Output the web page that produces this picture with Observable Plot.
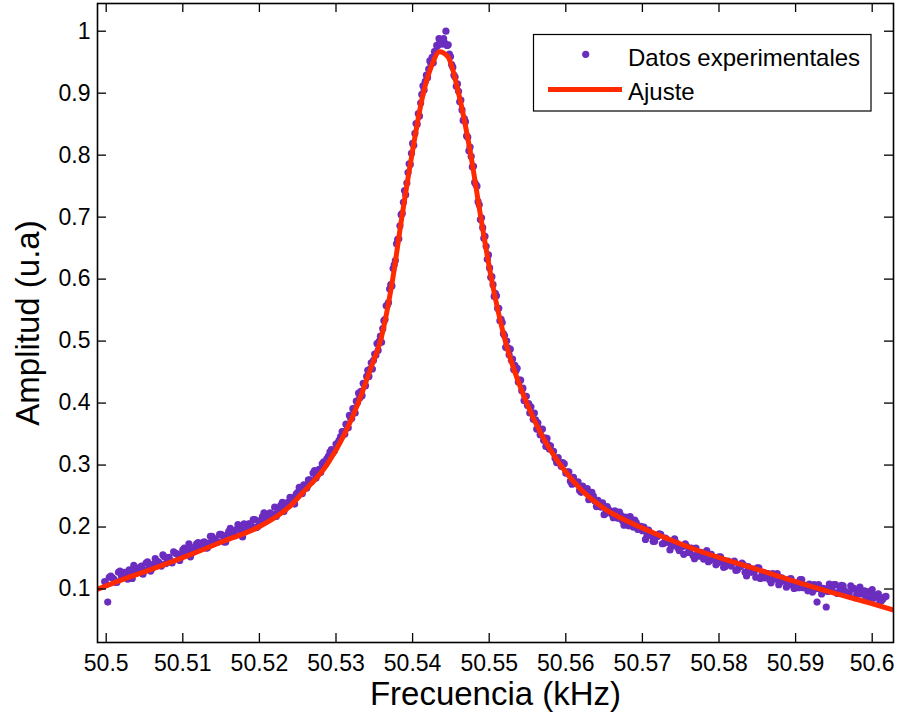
<!DOCTYPE html>
<html>
<head>
<meta charset="utf-8">
<script src="https://cdn.jsdelivr.net/npm/d3@7"></script>
<script src="https://cdn.jsdelivr.net/npm/@observablehq/plot@0.6"></script>
<style>
  html, body { margin: 0; padding: 0; background: #fff; }
  #chart { width: 900px; height: 720px; }
</style>
</head>
<body>
<div id="chart"></div>
<script>
// ---------- data ----------
const dataFreqLeft = [
50.4998, 50.5002, 50.5006, 50.5010, 50.5014, 50.5018, 50.5022, 50.5026, 50.5030, 50.5034,
50.5038, 50.5042, 50.5046, 50.5050, 50.5054, 50.5058, 50.5062, 50.5066, 50.5070, 50.5074,
50.5078, 50.5082, 50.5086, 50.5090, 50.5094, 50.5098, 50.5102, 50.5106, 50.5110, 50.5114,
50.5118, 50.5122, 50.5126, 50.5130, 50.5134, 50.5138, 50.5142, 50.5146, 50.5150, 50.5154,
50.5158, 50.5162, 50.5166, 50.5170, 50.5174, 50.5178, 50.5182, 50.5186, 50.5190, 50.5194,
50.5198, 50.5202, 50.5206, 50.5210, 50.5214, 50.5218, 50.5222, 50.5226, 50.5230, 50.5234,
50.5238, 50.5242, 50.5246, 50.5250, 50.5254, 50.5258, 50.5262, 50.5266, 50.5270, 50.5274,
50.5278, 50.5282, 50.5286, 50.5290, 50.5294, 50.5298, 50.5302, 50.5306];
const dataAmpLeft = [
0.112, 0.079, 0.121, 0.116, 0.111, 0.129, 0.122, 0.120, 0.131, 0.117,
0.131, 0.129, 0.137, 0.130, 0.144, 0.129, 0.140, 0.145, 0.141, 0.155,
0.141, 0.151, 0.142, 0.158, 0.155, 0.153, 0.166, 0.164, 0.152, 0.166,
0.173, 0.166, 0.175, 0.166, 0.174, 0.185, 0.181, 0.176, 0.188, 0.176,
0.187, 0.198, 0.187, 0.196, 0.201, 0.184, 0.200, 0.205, 0.201, 0.212,
0.201, 0.211, 0.223, 0.212, 0.223, 0.220, 0.217, 0.231, 0.240, 0.231,
0.240, 0.247, 0.237, 0.256, 0.257, 0.268, 0.263, 0.276, 0.287, 0.279,
0.293, 0.302, 0.301, 0.314, 0.325, 0.323, 0.335, 0.346];

const dataFreqLeftB = [
50.5000, 50.5004, 50.5008, 50.5012, 50.5016, 50.5020, 50.5024, 50.5028, 50.5032, 50.5036,
50.5040, 50.5044, 50.5048, 50.5052, 50.5056, 50.5060, 50.5064, 50.5068, 50.5072, 50.5076,
50.5080, 50.5084, 50.5088, 50.5092, 50.5096, 50.5100, 50.5104, 50.5108, 50.5112, 50.5116,
50.5120, 50.5124, 50.5128, 50.5132, 50.5136, 50.5140, 50.5144, 50.5148, 50.5152, 50.5156,
50.5160, 50.5164, 50.5168, 50.5172, 50.5176, 50.5180, 50.5184, 50.5188, 50.5192, 50.5196,
50.5200, 50.5204, 50.5208, 50.5212, 50.5216, 50.5220, 50.5224, 50.5228, 50.5232, 50.5236,
50.5240, 50.5244, 50.5248, 50.5252, 50.5256, 50.5260, 50.5264, 50.5268, 50.5272, 50.5276,
50.5280, 50.5284, 50.5288, 50.5292, 50.5296, 50.5300, 50.5304, 50.5308];
const dataAmpLeftB = [
0.108, 0.119, 0.118, 0.111, 0.127, 0.120, 0.127, 0.116, 0.128, 0.138,
0.127, 0.135, 0.124, 0.142, 0.138, 0.133, 0.149, 0.144, 0.137, 0.152,
0.148, 0.146, 0.160, 0.157, 0.146, 0.163, 0.161, 0.173, 0.158, 0.168,
0.175, 0.167, 0.176, 0.166, 0.185, 0.178, 0.175, 0.188, 0.186, 0.176,
0.193, 0.191, 0.186, 0.204, 0.195, 0.205, 0.196, 0.205, 0.212, 0.199,
0.209, 0.217, 0.209, 0.221, 0.220, 0.232, 0.224, 0.235, 0.225, 0.239,
0.248, 0.243, 0.253, 0.264, 0.254, 0.266, 0.276, 0.273, 0.291, 0.289,
0.288, 0.305, 0.310, 0.321, 0.320, 0.334, 0.340, 0.354];

const dataFreqPeak = [
50.5310, 50.53115, 50.5313, 50.53145, 50.5316, 50.53175, 50.5319, 50.53205, 50.5322, 50.53235,
50.5325, 50.53265, 50.5328, 50.53295, 50.5331, 50.53325, 50.5334, 50.53355, 50.5337, 50.53385,
50.5340, 50.53415, 50.5343, 50.53445, 50.5346, 50.53475, 50.5349, 50.53505, 50.5352, 50.53535,
50.5355, 50.53565, 50.5358, 50.53595, 50.5361, 50.53625, 50.5364, 50.53655, 50.5367, 50.53685,
50.5370, 50.53715, 50.5373, 50.53745, 50.5376, 50.53775, 50.5379, 50.53805, 50.5382, 50.53835,
50.5385, 50.53865, 50.5388, 50.53895, 50.5391, 50.53925, 50.5394, 50.53955, 50.5397, 50.53985,
50.5400, 50.54015, 50.5403, 50.54045, 50.5406, 50.54075, 50.5409, 50.54105, 50.5412, 50.54135,
50.5415, 50.54165, 50.5418, 50.54195, 50.5421, 50.54225, 50.5424, 50.54255, 50.5427, 50.54285,
50.5430, 50.54315, 50.5433, 50.54345, 50.5436, 50.54375, 50.5439, 50.54405, 50.5442, 50.54435,
50.5445, 50.54465, 50.5448, 50.54495, 50.5451, 50.54525, 50.5454, 50.54555, 50.5457, 50.54585,
50.5460, 50.54615, 50.5463, 50.54645, 50.5466, 50.54675, 50.5469, 50.54705, 50.5472, 50.54735,
50.5475, 50.54765, 50.5478, 50.54795, 50.5481, 50.54825, 50.5484, 50.54855, 50.5487, 50.54885,
50.5490, 50.54915, 50.5493, 50.54945, 50.5496, 50.54975, 50.5499, 50.55005, 50.5502, 50.55035,
50.5505, 50.55065, 50.5508, 50.55095, 50.5511, 50.55125, 50.5514, 50.55155, 50.5517, 50.55185,
50.5520, 50.55215, 50.5523, 50.55245, 50.5526, 50.55275, 50.5529, 50.55305, 50.5532, 50.55335,
50.5535, 50.55365, 50.5538, 50.55395, 50.5541, 50.55425, 50.5544, 50.55455, 50.5547, 50.55485,
50.5550, 50.55515, 50.5553, 50.55545, 50.5556, 50.55575, 50.5559, 50.55605, 50.5562, 50.55635,
50.5565, 50.55665, 50.5568, 50.55695, 50.5571, 50.55725, 50.5574, 50.55755, 50.5577, 50.55785,
50.5580];
const dataAmpPeak = [
0.354, 0.350, 0.366, 0.364, 0.360, 0.380, 0.376, 0.375, 0.391, 0.391,
0.384, 0.403, 0.401, 0.416, 0.408, 0.419, 0.412, 0.432, 0.430, 0.428,
0.443, 0.453, 0.443, 0.455, 0.465, 0.455, 0.469, 0.479, 0.477, 0.496,
0.485, 0.500, 0.508, 0.498, 0.520, 0.533, 0.535, 0.557, 0.558, 0.562,
0.584, 0.591, 0.589, 0.617, 0.623, 0.630, 0.657, 0.664, 0.665, 0.686,
0.704, 0.706, 0.724, 0.743, 0.736, 0.755, 0.772, 0.786, 0.785, 0.803,
0.819, 0.816, 0.835, 0.851, 0.850, 0.867, 0.863, 0.884, 0.898, 0.912,
0.905, 0.919, 0.929, 0.925, 0.939, 0.952, 0.947, 0.958, 0.949, 0.967,
0.968, 0.977, 0.977, 0.988, 0.982, 0.985, 0.979, 0.988, 0.981, 1.000,
0.977, 0.978, 0.963, 0.959, 0.946, 0.942, 0.929, 0.926, 0.911, 0.915,
0.903, 0.886, 0.889, 0.873, 0.856, 0.859, 0.854, 0.831, 0.829, 0.807,
0.813, 0.798, 0.781, 0.782, 0.756, 0.753, 0.750, 0.725, 0.720, 0.696,
0.699, 0.683, 0.666, 0.669, 0.653, 0.632, 0.639, 0.618, 0.603, 0.604,
0.591, 0.572, 0.577, 0.573, 0.553, 0.553, 0.533, 0.535, 0.530, 0.512,
0.509, 0.490, 0.500, 0.489, 0.478, 0.487, 0.469, 0.471, 0.454, 0.461,
0.452, 0.456, 0.434, 0.437, 0.437, 0.420, 0.424, 0.404, 0.411, 0.411,
0.396, 0.399, 0.384, 0.394, 0.384, 0.374, 0.384, 0.373, 0.358, 0.368,
0.359, 0.349, 0.357, 0.358, 0.340, 0.344, 0.330, 0.343, 0.333, 0.326,
0.331];

const dataFreqRight = [
50.5584, 50.5588, 50.5592, 50.5596, 50.5600, 50.5604, 50.5608, 50.5612, 50.5616, 50.5620,
50.5624, 50.5628, 50.5632, 50.5636, 50.5640, 50.5644, 50.5648, 50.5652, 50.5656, 50.5660,
50.5664, 50.5668, 50.5672, 50.5676, 50.5680, 50.5684, 50.5688, 50.5692, 50.5696, 50.5700,
50.5704, 50.5708, 50.5712, 50.5716, 50.5720, 50.5724, 50.5728, 50.5732, 50.5736, 50.5740,
50.5744, 50.5748, 50.5752, 50.5756, 50.5760, 50.5764, 50.5768, 50.5772, 50.5776, 50.5780,
50.5784, 50.5788, 50.5792, 50.5796, 50.5800, 50.5804, 50.5808, 50.5812, 50.5816, 50.5820,
50.5824, 50.5828, 50.5832, 50.5836, 50.5840, 50.5844, 50.5848, 50.5852, 50.5856, 50.5860,
50.5864, 50.5868, 50.5872, 50.5876, 50.5880, 50.5884, 50.5888, 50.5892, 50.5896, 50.5900,
50.5904, 50.5908, 50.5912, 50.5916, 50.5920, 50.5924, 50.5928, 50.5932, 50.5936, 50.5940,
50.5944, 50.5948, 50.5952, 50.5956, 50.5960, 50.5964, 50.5968, 50.5972, 50.5976, 50.5980,
50.5984, 50.5988, 50.5992, 50.5996, 50.6000, 50.6004, 50.6008, 50.6012, 50.6016];
const dataAmpRight = [
0.322, 0.304, 0.304, 0.304, 0.287, 0.289, 0.269, 0.273, 0.273, 0.256,
0.259, 0.262, 0.246, 0.250, 0.233, 0.238, 0.239, 0.222, 0.228, 0.221,
0.226, 0.214, 0.219, 0.203, 0.211, 0.217, 0.200, 0.207, 0.197, 0.194,
0.180, 0.195, 0.186, 0.177, 0.185, 0.188, 0.174, 0.180, 0.163, 0.173,
0.175, 0.162, 0.168, 0.173, 0.159, 0.166, 0.149, 0.156, 0.159, 0.148,
0.162, 0.146, 0.151, 0.139, 0.152, 0.144, 0.136, 0.145, 0.137, 0.145,
0.131, 0.136, 0.139, 0.121, 0.130, 0.132, 0.119, 0.134, 0.123, 0.118,
0.125, 0.110, 0.120, 0.125, 0.111, 0.114, 0.103, 0.116, 0.107, 0.110,
0.102, 0.115, 0.106, 0.097, 0.105, 0.107, 0.079, 0.100, 0.101, 0.071,
0.108, 0.097, 0.107, 0.094, 0.106, 0.097, 0.093, 0.105, 0.101, 0.093,
0.103, 0.096, 0.086, 0.096, 0.099, 0.088, 0.092, 0.081, 0.087];

const dataFreqRightB = [
50.5586, 50.5590, 50.5594, 50.5598, 50.5602, 50.5606, 50.5610, 50.5614, 50.5618, 50.5622,
50.5626, 50.5630, 50.5634, 50.5638, 50.5642, 50.5646, 50.5650, 50.5654, 50.5658, 50.5662,
50.5666, 50.5670, 50.5674, 50.5678, 50.5682, 50.5686, 50.5690, 50.5694, 50.5698, 50.5702,
50.5706, 50.5710, 50.5714, 50.5718, 50.5722, 50.5726, 50.5730, 50.5734, 50.5738, 50.5742,
50.5746, 50.5750, 50.5754, 50.5758, 50.5762, 50.5766, 50.5770, 50.5774, 50.5778, 50.5782,
50.5786, 50.5790, 50.5794, 50.5798, 50.5802, 50.5806, 50.5810, 50.5814, 50.5818, 50.5822,
50.5826, 50.5830, 50.5834, 50.5838, 50.5842, 50.5846, 50.5850, 50.5854, 50.5858, 50.5862,
50.5866, 50.5870, 50.5874, 50.5878, 50.5882, 50.5886, 50.5890, 50.5894, 50.5898, 50.5902,
50.5906, 50.5910, 50.5914, 50.5918, 50.5922, 50.5926, 50.5930, 50.5934, 50.5938, 50.5942,
50.5946, 50.5950, 50.5954, 50.5958, 50.5962, 50.5966, 50.5970, 50.5974, 50.5978, 50.5982,
50.5986, 50.5990, 50.5994, 50.5998, 50.6002, 50.6006, 50.6010, 50.6014, 50.6018];
const dataAmpRightB = [
0.311, 0.312, 0.298, 0.302, 0.289, 0.274, 0.280, 0.270, 0.259, 0.266,
0.257, 0.244, 0.256, 0.242, 0.243, 0.232, 0.220, 0.233, 0.225, 0.215,
0.222, 0.224, 0.210, 0.216, 0.202, 0.206, 0.211, 0.196, 0.201, 0.200,
0.186, 0.191, 0.177, 0.184, 0.189, 0.173, 0.182, 0.175, 0.169, 0.181,
0.167, 0.170, 0.156, 0.169, 0.163, 0.154, 0.166, 0.153, 0.158, 0.151,
0.144, 0.156, 0.148, 0.142, 0.152, 0.135, 0.144, 0.140, 0.143, 0.130,
0.137, 0.142, 0.127, 0.136, 0.127, 0.128, 0.134, 0.117, 0.127, 0.124,
0.115, 0.125, 0.116, 0.107, 0.118, 0.113, 0.107, 0.117, 0.101, 0.108,
0.115, 0.102, 0.106, 0.108, 0.095, 0.100, 0.107, 0.092, 0.100, 0.096,
0.099, 0.107, 0.093, 0.101, 0.105, 0.095, 0.093, 0.100, 0.086, 0.097,
0.092, 0.097, 0.084, 0.092, 0.085, 0.090, 0.080, 0.084, 0.088];

const fitFreq = [50.4989, 50.5023, 50.5067, 50.5110, 50.5153, 50.5199, 50.5241, 50.5254, 50.5290, 50.5310,
  50.5329, 50.5345, 50.5359, 50.5374, 50.5386, 50.5399, 50.5414, 50.5425, 50.5435, 50.5446,
  50.5460, 50.5476, 50.5489, 50.5503, 50.5521, 50.5549, 50.5570, 50.5593, 50.5620, 50.5650,
  50.5697, 50.5733, 50.5776, 50.5819, 50.5863, 50.5906, 50.5950, 50.5994, 50.6028];
const fitAmp = [0.0998, 0.1159, 0.1353, 0.1555, 0.1770, 0.2000, 0.2350, 0.2520, 0.3040, 0.3470,
  0.4000, 0.4550, 0.5050, 0.6000, 0.7000, 0.8000, 0.9000, 0.9450, 0.9670, 0.9590,
  0.9000, 0.8000, 0.7000, 0.6000, 0.5000, 0.4000, 0.3450, 0.3000, 0.2600, 0.2300,
  0.2000, 0.1810, 0.1605, 0.1435, 0.1265, 0.1095, 0.0935, 0.0785, 0.0660];

const xTicks = [50.5, 50.51, 50.52, 50.53, 50.54, 50.55, 50.56, 50.57, 50.58, 50.59, 50.6];
const xTickLabels = ["50.5", "50.51", "50.52", "50.53", "50.54", "50.55", "50.56", "50.57", "50.58", "50.59", "50.6"];
const yTicks = [0.1, 0.2, 0.3, 0.4, 0.5, 0.6, 0.7, 0.8, 0.9, 1];
const yTickLabels = ["0.1", "0.2", "0.3", "0.4", "0.5", "0.6", "0.7", "0.8", "0.9", "1"];

const seriesNames = ["Datos experimentales", "Ajuste"];
const xTitle = "Frecuencia (kHz)";
const yTitle = "Amplitud (u.a)";

// ---------- build ----------
const dataFreq = [...dataFreqLeft, ...dataFreqLeftB, ...dataFreqPeak, ...dataFreqRight, ...dataFreqRightB];
const dataAmp = [...dataAmpLeft, ...dataAmpLeftB, ...dataAmpPeak, ...dataAmpRight, ...dataAmpRightB];
const points = dataFreq.map((f, i) => ({f, a: dataAmp[i]}));
const fit = fitFreq.map((f, i) => ({f, a: fitAmp[i]}));

const W = 900, H = 720;
const mL = 97, mR = 7, mT = 3, mB = 78;
const innerW = W - mL - mR, innerH = H - mT - mB;
const tickLen = 9;
const purple = "#6b2dbf";
const red = "#ff2a00";
const font = "'Liberation Sans', Arial, Helvetica, sans-serif";

const chart = Plot.plot({
  width: W, height: H,
  marginLeft: mL, marginRight: mR, marginTop: mT, marginBottom: mB,
  style: {fontFamily: font, background: "#fff", color: "#000"},
  x: {domain: [50.498864, 50.602781], label: null},
  y: {domain: [0.0137, 1.0447], label: null},
  marks: [
    Plot.dot(points, {x: "f", y: "a", r: 3.6, fill: purple, stroke: "none"}),
    Plot.line(fit, {x: "f", y: "a", stroke: red, strokeWidth: 5, curve: "monotone-x", clip: true}),
    Plot.frame({stroke: "#000", strokeWidth: 1.6}),
    Plot.tickX(xTicks, {x: d => d, insetTop: innerH - tickLen, stroke: "#000", strokeWidth: 1.3}),
    Plot.tickX(xTicks, {x: d => d, insetBottom: innerH - tickLen, stroke: "#000", strokeWidth: 1.3}),
    Plot.tickY(yTicks, {y: d => d, insetRight: innerW - tickLen, stroke: "#000", strokeWidth: 1.3}),
    Plot.tickY(yTicks, {y: d => d, insetLeft: innerW - tickLen, stroke: "#000", strokeWidth: 1.3}),
    Plot.axisX({ticks: xTicks, tickSize: 0, tickPadding: 12, fontSize: 23, label: null,
      tickFormat: d => xTickLabels[xTicks.indexOf(d)]}),
    Plot.axisY({ticks: yTicks, tickSize: 0, tickPadding: 7, fontSize: 23, label: null,
      tickFormat: d => yTickLabels[yTicks.indexOf(d)]}),
    Plot.text([xTitle], {frameAnchor: "bottom", dy: 52, lineAnchor: "middle", textAnchor: "middle", fontSize: 33, fill: "#000"}),
    Plot.text([yTitle], {frameAnchor: "left", dx: -69, rotate: -90, textAnchor: "middle", lineAnchor: "middle", fontSize: 33, fill: "#000"})
  ]
});

// legend (MATLAB-style box, top right inside the axes)
const svg = d3.select(chart);
const lg = svg.append("g").attr("font-family", font).attr("font-size", 24).attr("text-anchor", "start");
lg.append("rect").attr("x", 533.5).attr("y", 34.5).attr("width", 337.5).attr("height", 76.5)
  .attr("fill", "#fff").attr("stroke", "#000").attr("stroke-width", 1.2);
lg.append("circle").attr("cx", 585.7).attr("cy", 54.3).attr("r", 3.6).attr("fill", purple);
lg.append("text").attr("x", 628).attr("y", 65.5).attr("text-anchor", "start").attr("fill", "#000").text(seriesNames[0]);
lg.append("line").attr("x1", 548).attr("x2", 622).attr("y1", 89.5).attr("y2", 89.5)
  .attr("stroke", red).attr("stroke-width", 5);
lg.append("text").attr("x", 628).attr("y", 100).attr("text-anchor", "start").attr("fill", "#000").text(seriesNames[1]);

document.getElementById("chart").appendChild(chart);
</script>
</body>
</html>
